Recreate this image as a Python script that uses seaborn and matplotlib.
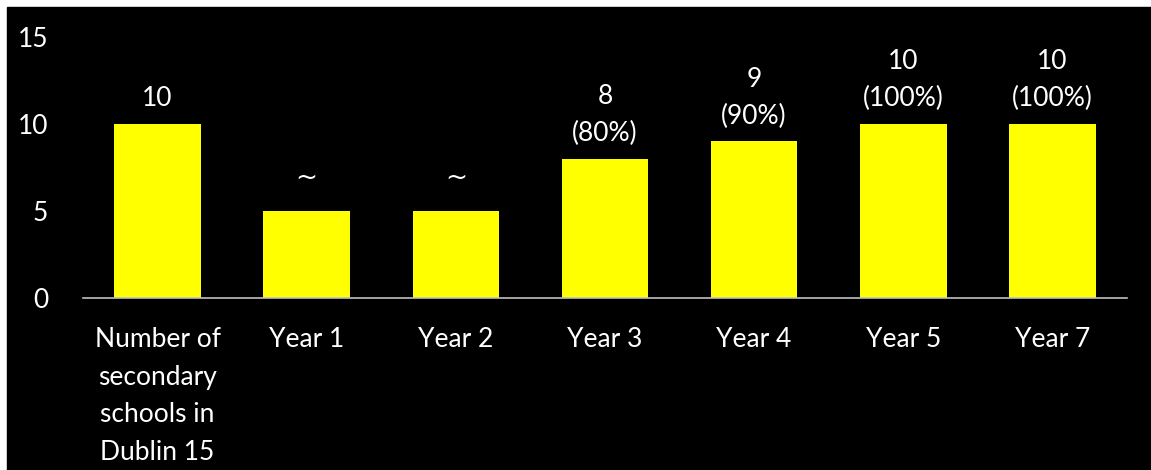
import seaborn as sns
import matplotlib.pyplot as plt

categories = ["Number of\nsecondary\nschools in\nDublin 15", "Year 1", "Year 2",
              "Year 3", "Year 4", "Year 5", "Year 7"]
values = [10, 5, 5, 8, 9, 10, 10]
bar_labels = ["10", "~", "~", "8\n(80%)", "9\n(90%)", "10\n(100%)", "10\n(100%)"]
yticks = [0, 5, 10, 15]

sns.set_style("dark")
plt.rcParams['font.family'] = ['Lato', 'DejaVu Sans']

fig = plt.figure(figsize=(11.51, 4.70), dpi=100, facecolor="white")
# black panel, leaving a thin white strip on top and left
fig.patches.append(plt.Rectangle((7 / 1151, 0), 1, 1 - 7 / 470,
                                 transform=fig.transFigure, color="black", zorder=-10))
ax = fig.add_axes([83 / 1151, 1 - 298 / 470, (1127 - 83) / 1151, (298 - 37) / 470])
ax.set_facecolor("black")

sns.barplot(x=categories, y=values, color="#FFFF00", saturation=1,
            width=0.58, linewidth=0, ax=ax)

for i, (v, lab) in enumerate(zip(values, bar_labels)):
    if lab == "~":
        # tilde sits mid-height, place it by its centre
        ax.annotate(lab, (i, v), xytext=(0, 24), textcoords="offset points",
                    ha="center", va="center", color="white", fontsize=19,
                    family="DejaVu Sans")
    else:
        ax.annotate(lab, (i, v), xytext=(0, 9), textcoords="offset points",
                    ha="center", va="bottom", color="white", fontsize=19,
                    linespacing=1.6)

ax.set_ylim(0, 15)
ax.set_xlim(-0.5, len(values) - 0.5)
ax.set_yticks(yticks)
ax.tick_params(axis="both", colors="white", labelsize=19, length=0)
ax.tick_params(axis="x", pad=21)
ax.tick_params(axis="y", pad=25)
for lbl in ax.get_xticklabels():
    lbl.set_linespacing(1.63)
ax.grid(False)
for s in ["top", "right", "left"]:
    ax.spines[s].set_visible(False)
ax.spines["bottom"].set_color("#BFBFBF")
ax.spines["bottom"].set_linewidth(1.2)
ax.set_xlabel("")
ax.set_ylabel("")

fig.savefig("out.png", dpi=100, facecolor="white")
